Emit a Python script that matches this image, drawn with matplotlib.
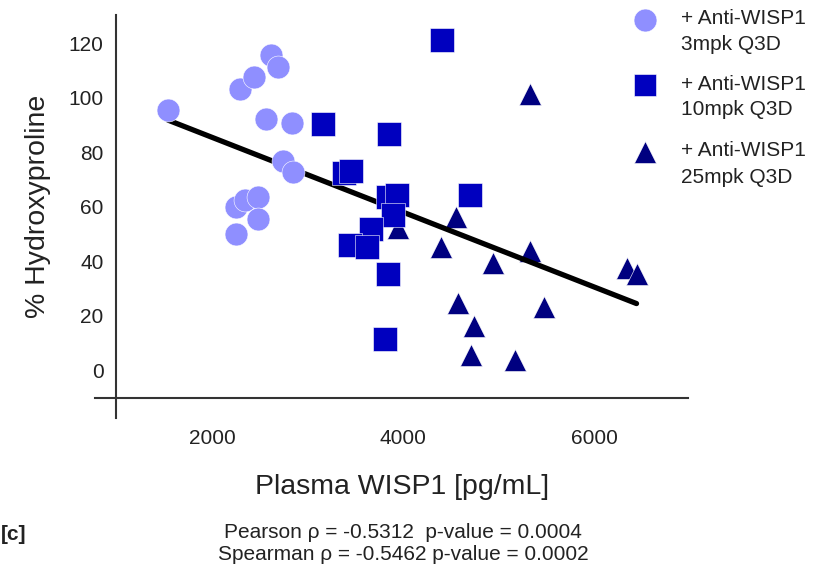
import numpy as np
import matplotlib
matplotlib.use("Agg")
import matplotlib.pyplot as plt

plt.rcParams["font.family"] = ["Liberation Sans", "DejaVu Sans"]

# Plasma WISP1 [pg/mL] vs % Hydroxyproline
dose_3mpk_x = [1539, 2293, 2443, 2618, 2694, 2565, 2838, 2740, 2852, 2248, 2346, 2478, 2485, 2251]
dose_3mpk_y = [95.4, 103.0, 107.6, 115.6, 111.3, 92.1, 90.5, 76.7, 72.5, 59.9, 62.4, 63.4, 55.4, 49.8]

dose_10mpk_x = [3163, 3853, 3382, 3455, 3846, 3941, 3899, 3665, 3445, 3620, 3846, 3812, 4408, 4702]
dose_10mpk_y = [90.3, 86.5, 72.2, 72.9, 63.6, 64.2, 56.9, 51.9, 45.9, 45.0, 35.2, 11.5, 121.1, 64.2]

dose_25mpk_x = [5330, 4555, 3950, 4393, 4946, 5325, 6342, 6445, 4580, 5476, 4743, 4717, 5175]
dose_25mpk_y = [101.2, 56.3, 52.2, 45.3, 39.4, 43.8, 37.6, 35.2, 24.7, 23.2, 16.3, 5.7, 3.7]

group_names = ["+ Anti-WISP1", "+ Anti-WISP1", "+ Anti-WISP1"]
group_doses = ["3mpk Q3D", "10mpk Q3D", "25mpk Q3D"]
x_ticks = [2000, 4000, 6000]
y_ticks = [0, 20, 40, 60, 80, 100, 120]
stats_lines = [
    "Pearson \u03c1 = -0.5312  p-value = 0.0004",
    "Spearman \u03c1 = -0.5462 p-value = 0.0002",
]

col_3 = "#8f8fff"
col_10 = "#0000bf"
col_25 = "#000080"
text_col = "#222222"

W, H = 830, 570
fig = plt.figure(figsize=(W / 100, H / 100), dpi=100)
ax = fig.add_axes([95 / W, 1 - 418 / H, (688 - 95) / W, (418 - 15) / H])

ms = 16.5
ax.plot(dose_25mpk_x, dose_25mpk_y, "^", color=col_25, ms=ms, mec="white", mew=0.4, zorder=2)

all_x = np.array(dose_3mpk_x + dose_10mpk_x + dose_25mpk_x, dtype=float)
all_y = np.array(dose_3mpk_y + dose_10mpk_y + dose_25mpk_y, dtype=float)
slope, intercept = np.polyfit(all_x, all_y, 1)
fit_x = np.array([all_x.min(), all_x.max()])
ax.plot(fit_x, slope * fit_x + intercept, color="black", lw=3.8, solid_capstyle="round", zorder=3)

ax.plot(dose_3mpk_x, dose_3mpk_y, "o", color=col_3, ms=ms, mec="white", mew=0.4, zorder=4)
ax.plot(dose_10mpk_x, dose_10mpk_y, "s", color=col_10, ms=ms + 0.6, mec="white", mew=0.4, zorder=5)

ax.set_xlim(775, 6984)
ax.set_ylim(-17.6, 130.3)
for side in ("top", "right"):
    ax.spines[side].set_visible(False)
ax.spines["left"].set_position(("data", 995))
ax.spines["bottom"].set_position(("data", -10.3))
for side in ("left", "bottom"):
    ax.spines[side].set_color("#333333")
    ax.spines[side].set_linewidth(1.5)

ax.set_xticks(x_ticks)
ax.set_yticks(y_ticks)
ax.tick_params(axis="both", length=0, labelsize=15, labelcolor=text_col)
ax.tick_params(axis="y", pad=9)
ax.tick_params(axis="x", pad=22)

fig.text(402 / W, 1 - 487 / H, "Plasma WISP1 [pg/mL]", fontsize=20.5, color=text_col,
         ha="center", va="center")
fig.text(38 / W, 1 - 206 / H, "% Hydroxyproline", fontsize=20.5, color=text_col,
         rotation=90, ha="center", va="center")
fig.text(403 / W, 1 - 532 / H, stats_lines[0], fontsize=15, color=text_col, ha="center", va="center")
fig.text(403 / W, 1 - 555 / H, stats_lines[1], fontsize=15, color=text_col, ha="center", va="center")
fig.text(1 / W, 1 - 535 / H, "[c]", fontsize=15, fontweight="bold", color=text_col,
         ha="left", va="center")

# legend, drawn by hand so the marker sits on the first text line
legend_markers = ["o", "s", "^"]
legend_colors = [col_3, col_10, col_25]
legend_rows = [20, 85, 152]
for marker, color, name, dose, row in zip(legend_markers, legend_colors, group_names,
                                          group_doses, legend_rows):
    ax.plot([645 / W], [1 - row / H], marker, color=color, ms=ms, mec="white", mew=0.4,
            transform=fig.transFigure, clip_on=False)
    fig.text(681 / W, 1 - (row - 1) / H, name, fontsize=15, color=text_col, ha="left", va="center")
    fig.text(681 / W, 1 - (row + 25) / H, dose, fontsize=15, color=text_col, ha="left", va="center")

fig.savefig("out.png", dpi=100)
